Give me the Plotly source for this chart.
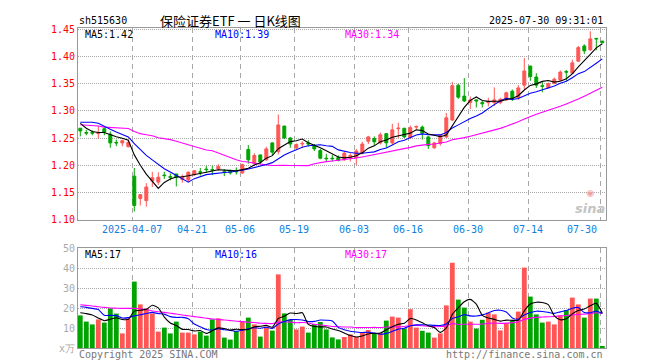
import pandas as pd
import plotly.graph_objects as go

# ---------------- data ----------------
holidays = ["2025-04-04", "2025-05-01", "2025-05-02", "2025-05-05", "2025-06-02"]
dates = [d.strftime("%Y-%m-%d") for d in pd.bdate_range("2025-03-24", "2025-07-30")
         if d.strftime("%Y-%m-%d") not in holidays]

opens = [1.268, 1.260, 1.260, 1.258, 1.267, 1.257, 1.242, 1.241, 1.234, 1.180,
         1.139, 1.135, 1.171, 1.169, 1.182, 1.179, 1.184, 1.174, 1.173, 1.183,
         1.188, 1.193, 1.192, 1.193, 1.188, 1.190, 1.189, 1.186, 1.229, 1.203,
         1.219, 1.210, 1.241, 1.225, 1.272, 1.250, 1.232, 1.239, 1.241, 1.236,
         1.227, 1.213, 1.213, 1.214, 1.210, 1.213, 1.214, 1.222, 1.244, 1.249,
         1.241, 1.258, 1.241, 1.267, 1.268, 1.251, 1.270, 1.270, 1.252, 1.232,
         1.240, 1.252, 1.283, 1.347, 1.327, 1.315, 1.320, 1.315, 1.315, 1.315,
         1.315, 1.320, 1.336, 1.324, 1.347, 1.382, 1.362, 1.346, 1.342, 1.350,
         1.356, 1.372, 1.369, 1.391, 1.419, 1.412, 1.433, 1.428]
highs = [1.268, 1.265, 1.264, 1.272, 1.270, 1.262, 1.247, 1.247, 1.247, 1.195,
         1.147, 1.167, 1.188, 1.187, 1.188, 1.185, 1.184, 1.183, 1.189, 1.191,
         1.195, 1.199, 1.199, 1.202, 1.193, 1.192, 1.196, 1.203, 1.237, 1.222,
         1.219, 1.234, 1.242, 1.293, 1.272, 1.252, 1.240, 1.244, 1.246, 1.239,
         1.230, 1.221, 1.219, 1.218, 1.225, 1.222, 1.230, 1.243, 1.254, 1.253,
         1.260, 1.259, 1.276, 1.278, 1.268, 1.273, 1.273, 1.273, 1.254, 1.243,
         1.257, 1.296, 1.353, 1.349, 1.360, 1.326, 1.321, 1.318, 1.324, 1.343,
         1.324, 1.335, 1.339, 1.347, 1.397, 1.383, 1.369, 1.353, 1.352, 1.361,
         1.374, 1.375, 1.394, 1.419, 1.422, 1.446, 1.433, 1.428]
lows = [1.253, 1.255, 1.255, 1.249, 1.255, 1.232, 1.235, 1.235, 1.233, 1.115,
        1.126, 1.124, 1.160, 1.164, 1.175, 1.172, 1.161, 1.168, 1.169, 1.180,
        1.181, 1.186, 1.182, 1.190, 1.180, 1.183, 1.183, 1.184, 1.203, 1.200,
        1.202, 1.208, 1.219, 1.220, 1.248, 1.232, 1.229, 1.232, 1.234, 1.226,
        1.211, 1.207, 1.207, 1.207, 1.208, 1.207, 1.200, 1.220, 1.239, 1.236,
        1.238, 1.232, 1.238, 1.250, 1.250, 1.248, 1.265, 1.247, 1.230, 1.230,
        1.236, 1.250, 1.281, 1.322, 1.316, 1.303, 1.306, 1.306, 1.308, 1.309,
        1.312, 1.318, 1.318, 1.320, 1.340, 1.355, 1.342, 1.334, 1.341, 1.349,
        1.355, 1.355, 1.368, 1.390, 1.404, 1.410, 1.411, 1.424]
closes = [1.263, 1.259, 1.259, 1.259, 1.261, 1.241, 1.241, 1.245, 1.242, 1.126,
          1.146, 1.160, 1.177, 1.178, 1.181, 1.178, 1.178, 1.179, 1.187, 1.190,
          1.187, 1.192, 1.191, 1.198, 1.187, 1.186, 1.188, 1.201, 1.210, 1.218,
          1.206, 1.230, 1.224, 1.274, 1.250, 1.239, 1.238, 1.240, 1.239, 1.230,
          1.213, 1.212, 1.212, 1.209, 1.222, 1.218, 1.226, 1.239, 1.252, 1.243,
          1.256, 1.241, 1.265, 1.268, 1.252, 1.269, 1.271, 1.259, 1.236, 1.241,
          1.255, 1.287, 1.346, 1.325, 1.318, 1.320, 1.318, 1.313, 1.317, 1.320,
          1.321, 1.333, 1.322, 1.342, 1.373, 1.363, 1.347, 1.345, 1.350, 1.358,
          1.371, 1.371, 1.388, 1.416, 1.410, 1.432, 1.432, 1.425]
volumes = [16.3, 13.2, 11.8, 14.3, 12.7, 19.8, 17.2, 7.3, 14.7, 33.2,
           21.8, 19.7, 17.3, 8.2, 10.2, 7.3, 13.2, 7.7, 7.7, 6.8,
           8.2, 6.2, 14.3, 14.8, 5.2, 4.2, 8.5, 13.2, 15.2, 11.8,
           5.7, 10.7, 8.7, 36.8, 17.3, 14.0, 9.3, 10.7, 7.7, 12.0,
           13.0, 9.3, 5.3, 4.3, 5.5, 6.8, 5.6, 8.0, 9.0, 7.4,
           7.5, 13.7, 15.7, 15.2, 9.7, 19.4, 10.2, 8.6, 7.7, 5.2,
           7.3, 21.3, 42.6, 24.2, 20.2, 13.2, 9.7, 14.1, 17.7, 16.8,
           8.8, 12.3, 13.5, 18.2, 40.2, 25.7, 16.8, 12.7, 13.2, 11.8,
           16.2, 19.0, 25.2, 21.8, 15.2, 24.7, 24.7, 0.7]

# moving-average values before a full window exists
ma5_head = [1.277, 1.268, 1.262, 1.260]
ma10_head = [1.279, 1.279, 1.279, 1.277, 1.271, 1.266, 1.261, 1.256, 1.252]
ma30_head = [1.2744, 1.274, 1.2735, 1.272, 1.270, 1.2695, 1.269, 1.2685, 1.2675, 1.262,
             1.258, 1.256, 1.254, 1.2505, 1.249, 1.247, 1.244, 1.241, 1.237, 1.234,
             1.232, 1.228, 1.2267, 1.2224, 1.218, 1.2145, 1.2101, 1.207, 1.206]
vma5_head = [17.6, 17.2, 16.5, 15.0]
vma10_head = [20.6, 20.3, 19.8, 19.2, 16.4, 16.3, 16.2, 15.0, 15.2]
vma30_head = [21.6, 21.3, 21.0, 20.6, 20.3, 20.0, 19.9, 19.8, 19.8, 19.8,
              19.6, 19.2, 18.5, 18.1, 17.8, 17.4, 17.0, 16.5, 16.1, 15.7,
              15.3, 14.9, 14.5, 14.3, 14.0, 13.7, 13.4, 13.2, 12.9]

tick_dates = ["2025-04-07", "2025-04-21", "2025-05-06", "2025-05-19", "2025-06-03",
              "2025-06-16", "2025-06-30", "2025-07-14", "2025-07-30"]
tick_text = ["2025-04-07", "04-21", "05-06", "05-19", "06-03", "06-16", "06-30", "07-14", "07-30"]
price_ticks = [1.10, 1.15, 1.20, 1.25, 1.30, 1.35, 1.40, 1.45]
vol_ticks = [0, 10, 20, 30, 40, 50]
vol_tick_text = ["x万", "10", "20", "30", "40", "50"]

title_text = "保险证券ETF 一 日K线图"
code_text = "sh515630"
time_text = "2025-07-30 09:31:01"
price_legend = ["MA5:1.42", "MA10:1.39", "MA30:1.34"]
vol_legend = ["MA5:17", "MA10:16", "MA30:17"]

# ---------------- helpers ----------------
RED = "#ff5555"
GREEN = "#00a400"
BLUE = "#0000ff"
MAG = "#ff00ff"
GRID = "#a8a8a8"
MONO = "DejaVu Sans Mono"

def moving(values, n, head):
    s = pd.Series(values).rolling(n).mean().tolist()
    return list(head) + s[n - 1:]

x = list(range(len(dates)))
ma5 = moving(closes, 5, ma5_head)
ma10 = moving(closes, 10, ma10_head)
ma30 = moving(closes, 30, ma30_head)
vma5 = moving(volumes, 5, vma5_head)
vma10 = moving(volumes, 10, vma10_head)
vma30 = moving(volumes, 30, vma30_head)
vol_colors = [RED if c >= o else GREEN for o, c in zip(opens, closes)]
grid_x = [dates.index(d) - 0.3 for d in tick_dates]

W, H = 660, 360
L, R, T, B = 70, 62, 20, 20
PW, PH = W - L - R, H - T - B

def py(p):
    return (H - B - p) / PH

def pxp(p):
    return (p - L) / PW

fig = go.Figure()
fig.add_trace(go.Candlestick(
    x=x, open=opens, high=highs, low=lows, close=closes,
    increasing=dict(line=dict(color=RED, width=1), fillcolor=RED),
    decreasing=dict(line=dict(color=GREEN, width=1), fillcolor=GREEN),
    whiskerwidth=0, xaxis="x", yaxis="y", hoverinfo="skip"))
for vals, col in [(ma30, MAG), (ma10, BLUE), (ma5, "#000000")]:
    fig.add_trace(go.Scatter(x=x, y=vals, mode="lines", line=dict(color=col, width=1.1),
                             xaxis="x", yaxis="y", hoverinfo="skip"))
fig.add_trace(go.Bar(x=x, y=volumes, marker=dict(color=vol_colors, line=dict(width=0)),
                     width=0.8, xaxis="x2", yaxis="y2", hoverinfo="skip"))
for vals, col in [(vma30, MAG), (vma10, BLUE), (vma5, "#000000")]:
    fig.add_trace(go.Scatter(x=x, y=vals, mode="lines",
                             line=dict(color=col, width=1.1, shape="spline", smoothing=0.6),
                             xaxis="x2", yaxis="y2", hoverinfo="skip"))

xcommon = dict(range=[-0.383, 87.617], tickvals=grid_x, showticklabels=False, ticks="",
               showgrid=True, gridcolor=GRID, griddash="5px,4px", gridwidth=1,
               showline=True, linecolor="#999999", linewidth=1, mirror=True,
               zeroline=False, fixedrange=True)
fig.update_layout(
    width=W, height=H, margin=dict(l=L, r=R, t=T, b=B, autoexpand=False),
    paper_bgcolor="white", plot_bgcolor="white", showlegend=False,
    hovermode=False, boxgap=0.3,
    xaxis=dict(domain=[0, 1], anchor="y", rangeslider=dict(visible=False), **xcommon),
    xaxis2=dict(domain=[0, 1], anchor="y2", matches="x", **xcommon),
    yaxis=dict(domain=[py(211.7), 1], range=[1.10, 1.452], tickvals=price_ticks,
               ticktext=[f"{v:.2f}" for v in price_ticks], ticks="",
               tickfont=dict(family=MONO, size=10, color="#ff0000"),
               showgrid=True, gridcolor=GRID, griddash="1px,1px", zeroline=False,
               showline=True, linecolor="#999999", mirror=True),
    yaxis2=dict(domain=[0, py(240)], range=[0, 50], tickvals=vol_ticks,
                ticktext=vol_tick_text, ticks="",
                tickfont=dict(family=MONO, size=10, color="#aaaaaa"),
                showgrid=True, gridcolor=GRID, griddash="1px,1px", zeroline=False,
                showline=True, linecolor="#999999", mirror=True),
)

anns = []
def add(text, xp, yp, color="#000000", size=10, xanchor="left", family=MONO, xref="paper"):
    anns.append(dict(text=text, x=xp, y=yp, xref=xref, yref="paper", xanchor=xanchor,
                     yanchor="middle", showarrow=False,
                     font=dict(family=family, size=size, color=color)))

add(code_text, pxp(69), py(13))
add(title_text, pxp(222), py(13), size=13, xanchor="center", family="Noto Sans CJK SC")
add(time_text, pxp(597), py(13), xanchor="right")
for t, xp, col in zip(price_legend, [75, 205, 335], ["#000000", BLUE, MAG]):
    add(t, pxp(xp), py(26), color=col)
for t, xp, col in zip(vol_legend, [75, 205, 335], ["#000000", BLUE, MAG]):
    add(t, pxp(xp), py(246.5), color=col)
for i, (d, t) in enumerate(zip(tick_dates, tick_text)):
    idx = dates.index(d)
    if i == len(tick_dates) - 1:
        add(t, idx - 0.55, py(221.5), color="#1080e0", xanchor="right", xref="x")
    else:
        add(t, idx - 0.45, py(221.5), color="#1080e0", xanchor="center", xref="x")
add("Copyright 2025 SINA.COM", pxp(69), py(346), color="#777777")
add("http://finance.sina.com.cn", pxp(597), py(346), color="#777777", xanchor="right")
anns.append(dict(text="<span style='color:#f2a0a0;font-size:9px'>◉</span><br><b><i>sina</i></b>",
                 x=pxp(582), y=py(194), xref="paper", yref="paper", xanchor="center",
                 yanchor="middle", showarrow=False,
                 font=dict(family="DejaVu Sans", size=13, color="#c4c4c4")))
fig.update_layout(annotations=anns)

fig.write_html("out.html")
